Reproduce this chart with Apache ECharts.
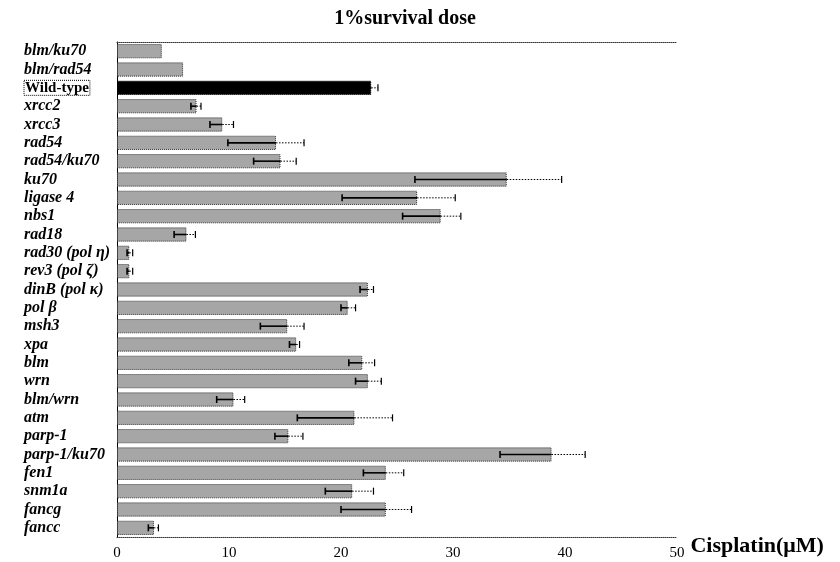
<!DOCTYPE html>
<html>
<head>
<meta charset="utf-8">
<style>
  html, body { margin: 0; padding: 0; background: #fff; }
  #chart { width: 840px; height: 562px; }
</style>
<script src="https://cdn.jsdelivr.net/npm/echarts@6/dist/echarts.min.js"></script>
</head>
<body>
<div id="chart"></div>
<script>
// strains, top to bottom
const strains = ['blm/ku70', 'blm/rad54', 'Wild-type', 'xrcc2', 'xrcc3', 'rad54', 'rad54/ku70', 'ku70',
  'ligase 4', 'nbs1', 'rad18', 'rad30 (pol η)', 'rev3 (pol ζ)', 'dinB (pol κ)', 'pol β', 'msh3', 'xpa',
  'blm', 'wrn', 'blm/wrn', 'atm', 'parp-1', 'parp-1/ku70', 'fen1', 'snm1a', 'fancg', 'fancc']
// 1% survival dose (uM cisplatin)
const dose = [4.0, 5.9, 22.7, 7.1, 9.4, 14.2, 14.6, 34.8, 26.8, 28.9, 6.2, 1.1, 1.1, 22.4, 20.6, 15.2, 16.0,
  21.9, 22.4, 10.4, 21.2, 15.3, 38.8, 24.0, 21.0, 24.0, 3.3]
// error bar ends
const errLow = [null, null, 22.3, 6.6, 8.3, 9.9, 12.2, 26.6, 20.1, 25.5, 5.1, 0.9, 0.9, 21.7, 20.0, 12.8, 15.4,
  20.7, 21.3, 8.9, 16.1, 14.1, 34.2, 22.0, 18.6, 20.0, 2.8]
const errHigh = [null, null, 23.3, 7.5, 10.4, 16.7, 16.0, 39.7, 30.2, 30.7, 7.0, 1.4, 1.4, 22.9, 21.3, 16.7, 16.3,
  23.0, 23.6, 11.4, 24.6, 16.6, 41.8, 25.6, 22.9, 26.3, 3.7]
const xTicks = [0, 10, 20, 30, 40, 50]

const serif = '"Liberation Serif", "DejaVu Serif", serif'

const barData = dose.map((v, i) => {
  if (strains[i] === 'Wild-type') {
    return { value: v, itemStyle: { color: '#000', borderColor: '#000' } }
  }
  return v
})

const errData = []
strains.forEach((s, i) => {
  if (errLow[i] != null) errData.push([i, errLow[i], errHigh[i], dose[i]])
})

const renderErr = (params, api) => {
  const y = api.value(0)
  const lo = api.coord([api.value(1), y])
  const hi = api.coord([api.value(2), y])
  const mid = api.coord([api.value(3), y])
  const h = 3.5
  const solid = { stroke: '#000', lineWidth: 1.6 }
  const dot = { stroke: '#000', lineWidth: 1, lineDash: [1.5, 1.5] }
  return {
    type: 'group',
    children: [
      { type: 'line', shape: { x1: lo[0], y1: lo[1], x2: mid[0], y2: mid[1] }, style: solid },
      { type: 'line', shape: { x1: mid[0], y1: mid[1], x2: hi[0], y2: hi[1] }, style: dot },
      { type: 'line', shape: { x1: lo[0], y1: lo[1] - h, x2: lo[0], y2: lo[1] + h }, style: solid },
      { type: 'line', shape: { x1: hi[0], y1: hi[1] - h, x2: hi[0], y2: hi[1] + h }, style: { stroke: '#000', lineWidth: 1.2 } }
    ]
  }
}

const chart = echarts.init(document.getElementById('chart'))
chart.setOption({
  animation: false,
  backgroundColor: '#fff',
  title: {
    text: '1%survival dose',
    left: 400,
    top: 4,
    textAlign: 'center',
    textStyle: { fontFamily: serif, fontSize: 20, fontWeight: 'bold', color: '#000' }
  },
  grid: { left: 117, right: 163, top: 42, bottom: 25 },
  xAxis: [
    {
      type: 'value',
      min: 0,
      max: 50,
      interval: 10,
      position: 'bottom',
      name: 'Cisplatin(μM)',
      nameLocation: 'end',
      nameGap: 9,
      nameTextStyle: { fontFamily: serif, fontSize: 22, fontWeight: 'bold', color: '#000', verticalAlign: 'top', padding: [-2, 0, 0, 0] },
      axisLine: { show: true, lineStyle: { color: '#333', type: 'dotted', width: 1 } },
      axisTick: { show: false },
      splitLine: { show: false },
      axisLabel: {
        margin: 9,
        fontFamily: serif,
        fontSize: 15,
        color: '#000',
        formatter: v => xTicks.includes(v) ? String(v) : ''
      }
    },
    {
      type: 'value',
      min: 0,
      max: 50,
      position: 'top',
      axisLine: { show: true, lineStyle: { color: '#333', type: 'dotted', width: 1 } },
      axisTick: { show: false },
      axisLabel: { show: false },
      splitLine: { show: false }
    }
  ],
  yAxis: {
    type: 'category',
    inverse: true,
    data: strains,
    axisLine: { show: true, lineStyle: { color: '#000', width: 1 } },
    axisTick: { show: false },
    axisLabel: {
      align: 'left',
      margin: 93,
      formatter: v => v === 'Wild-type' ? '{wt|' + v + '}' : '{it|' + v + '}',
      rich: {
        it: { fontFamily: serif, fontSize: 16, fontStyle: 'italic', fontWeight: 'bold', color: '#000' },
        wt: {
          fontFamily: serif, fontSize: 15, fontWeight: 'bold', color: '#000',
          borderColor: '#000', borderWidth: 1, borderType: 'dotted', padding: [0, 1, 0, 1]
        }
      }
    }
  },
  series: [
    {
      type: 'bar',
      data: barData,
      barCategoryGap: '22%',
      itemStyle: { color: '#a6a6a6', borderColor: '#333', borderWidth: 1, borderType: 'dotted' }
    },
    {
      type: 'custom',
      renderItem: renderErr,
      encode: { x: [1, 2, 3], y: 0 },
      data: errData,
      z: 5
    }
  ]
})
</script>
</body>
</html>
